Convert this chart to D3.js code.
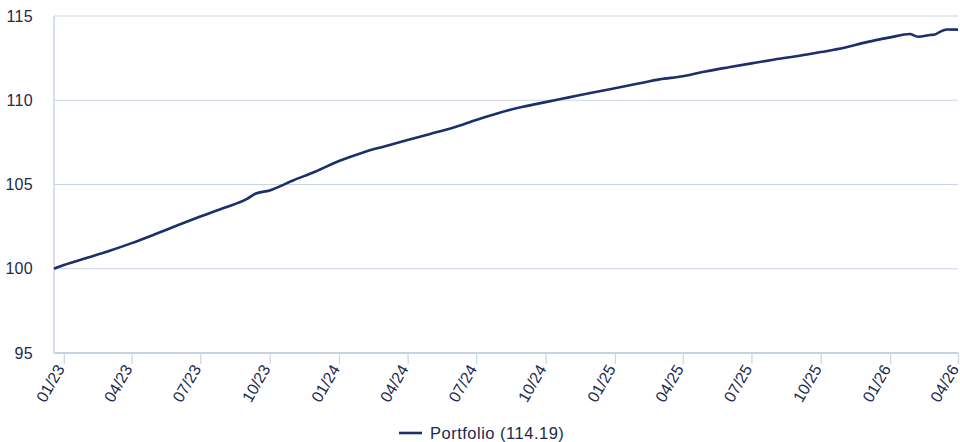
<!DOCTYPE html>
<html>
<head>
<meta charset="utf-8">
<script src="https://cdn.jsdelivr.net/npm/d3@7"></script>
<style>
  body { margin: 0; background: #fff; }
  text { font-family: "Liberation Sans", Arial, sans-serif; fill: #1b2a4e; }
</style>
</head>
<body>
<div id="chart"></div>
<script>
// portfolio index (start = 100)
var dates = [
  "2022-12-19", "2023-01-01", "2023-02-01", "2023-03-01", "2023-04-01", "2023-05-01",
  "2023-06-01", "2023-07-01", "2023-08-01", "2023-09-01", "2023-09-12", "2023-10-01",
  "2023-11-01", "2023-12-01", "2024-01-01", "2024-02-01", "2024-03-01", "2024-04-01",
  "2024-05-01", "2024-06-01", "2024-07-01", "2024-08-01", "2024-09-01", "2024-10-01",
  "2024-11-01", "2024-12-01", "2025-01-01", "2025-02-01", "2025-03-01", "2025-04-01",
  "2025-05-01", "2025-06-01", "2025-07-01", "2025-08-01", "2025-09-01", "2025-10-01",
  "2025-11-01", "2025-12-01", "2026-01-01", "2026-01-27", "2026-02-07", "2026-02-23",
  "2026-03-01", "2026-03-08", "2026-03-17", "2026-04-01"
];
var values = [
  100.00, 100.22, 100.65, 101.04, 101.52, 102.03,
  102.58, 103.10, 103.61, 104.14, 104.45, 104.65,
  105.24, 105.77, 106.39, 106.89, 107.26, 107.64,
  108.00, 108.38, 108.83, 109.26, 109.61, 109.89,
  110.17, 110.44, 110.71, 110.99, 111.24, 111.42,
  111.71, 111.96, 112.19, 112.42, 112.63, 112.86,
  113.11, 113.45, 113.73, 113.93, 113.77, 113.87,
  113.90, 114.06, 114.20, 114.19
];
var xTicks = ["2023-01-01", "2023-04-01", "2023-07-01", "2023-10-01", "2024-01-01", "2024-04-01",
  "2024-07-01", "2024-10-01", "2025-01-01", "2025-04-01", "2025-07-01", "2025-10-01",
  "2026-01-01", "2026-04-01"];
var yTicks = [95, 100, 105, 110, 115];
var seriesName = "Portfolio (114.19)";

var parse = d3.timeParse("%Y-%m-%d");
var data = dates.map(function (d, i) { return { date: parse(d), value: values[i] }; });

var width = 960, height = 442;
var margin = { top: 16, right: 2, bottom: 89, left: 54 };

var svg = d3.select("#chart")
    .append("svg")
    .attr("width", width)
    .attr("height", height);

var x = d3.scaleTime()
    .domain(d3.extent(data, function (d) { return d.date; }))
    .range([margin.left, width - margin.right]);

var y = d3.scaleLinear()
    .domain([95, 115])
    .range([height - margin.bottom, margin.top]);

// horizontal grid
svg.append("g")
    .selectAll("line")
    .data(yTicks.slice(1))
    .enter().append("line")
    .attr("x1", margin.left)
    .attr("x2", width - margin.right)
    .attr("y1", function (d) { return y(d); })
    .attr("y2", function (d) { return y(d); })
    .attr("stroke", "#c9d5e5")
    .attr("stroke-width", 1.2);

// y labels
svg.append("g")
    .selectAll("text")
    .data(yTicks)
    .enter().append("text")
    .attr("x", margin.left - 21)
    .attr("y", function (d) { return y(d); })
    .attr("dy", "0.35em")
    .attr("text-anchor", "end")
    .style("font-size", "16px")
    .style("letter-spacing", "0.3px")
    .text(function (d) { return d; });

// left axis line
svg.append("line")
    .attr("x1", margin.left).attr("x2", margin.left)
    .attr("y1", y(115)).attr("y2", y(95))
    .attr("stroke", "#c9d5e5")
    .attr("stroke-width", 1.5);

// bottom axis
var xAxis = svg.append("g")
    .attr("transform", "translate(0," + y(95) + ")")
    .call(d3.axisBottom(x)
        .tickValues(xTicks.map(parse))
        .tickSize(11)
        .tickSizeOuter(0)
        .tickFormat(d3.timeFormat("%m/%y")));

xAxis.select(".domain")
    .attr("d", "M" + margin.left + ",0H" + (width - margin.right))
    .attr("stroke", "#c5d2e3")
    .attr("stroke-width", 2);
xAxis.selectAll(".tick line")
    .attr("stroke", "#c9d5e5")
    .attr("stroke-width", 1.2);
xAxis.selectAll(".tick text")
    .attr("fill", "#1b2a4e")
    .style("font-size", "16px")
    .style("font-family", "'Liberation Sans', Arial, sans-serif")
    .attr("text-anchor", "end")
    .attr("transform", "translate(-4,13) rotate(-60)")
    .attr("dy", "0.35em")
    .attr("y", 0)
    .attr("x", 0);

// series line
var line = d3.line()
    .x(function (d) { return x(d.date); })
    .y(function (d) { return y(d.value); })
    .curve(d3.curveMonotoneX);

svg.append("path")
    .datum(data)
    .attr("fill", "none")
    .attr("stroke", "#1b306b")
    .attr("stroke-width", 2.6)
    .attr("d", line);

// legend
var legend = svg.append("g").attr("transform", "translate(399,433)");
legend.append("line")
    .attr("x1", 0).attr("x2", 23)
    .attr("stroke", "#1b306b")
    .attr("stroke-width", 2.6);
legend.append("text")
    .attr("x", 31)
    .attr("dy", "0.35em")
    .style("font-size", "16.5px")
    .style("letter-spacing", "0.5px")
    .text(seriesName);
</script>
</body>
</html>
